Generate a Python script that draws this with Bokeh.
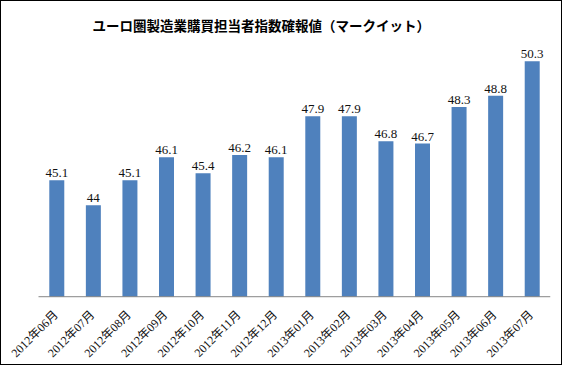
from bokeh.plotting import figure
from bokeh.models import Range1d, ColumnDataSource
from bokeh.embed import file_html
from bokeh.resources import INLINE
from bokeh.core.properties import value
from math import pi

title_text = "ユーロ圏製造業購買担当者指数確報値（マークイット）"
months = ["2012年06月", "2012年07月", "2012年08月", "2012年09月", "2012年10月",
          "2012年11月", "2012年12月", "2013年01月", "2013年02月", "2013年03月",
          "2013年04月", "2013年05月", "2013年06月", "2013年07月"]
pmi = [45.1, 44, 45.1, 46.1, 45.4, 46.2, 46.1, 47.9, 47.9, 46.8, 46.7, 48.3, 48.8, 50.3]
base = 40

n = len(months)
idx = list(range(n))
src = ColumnDataSource(dict(x=idx, name=months, top=pmi, lbl=[f"{v:g}" for v in pmi],
                            b=[base] * n))

serif = "'Liberation Serif', 'Noto Sans CJK JP'"

x_lo = -0.5 - 35 / 36.57
p = figure(x_range=Range1d(x_lo, n - 0.5), y_range=Range1d(36.99, 50.95),
           width=562, height=365, output_backend="svg", toolbar_location=None,
           min_border_left=2, min_border_right=13, min_border_top=40, min_border_bottom=1)
p.styles = {"border": "1px solid black", "box-sizing": "border-box"}
p.vbar(x="x", top="top", bottom=base, width=0.41, source=src,
       fill_color="#4F81BD", line_color=None)
p.text(x="x", y="top", text="lbl", source=src, text_align="center",
       text_baseline="alphabetic", y_offset=-7, text_font=value(serif),
       text_font_size="13px", text_color="#111111")
p.segment(x0=[-0.5], y0=[base], x1=[n - 0.5], y1=[base], line_color="#868686", line_width=1)
p.text(x="x", y="b", text="name", source=src, angle=pi / 4, text_align="right",
       text_baseline="middle", x_offset=-1, y_offset=16, text_font=value(serif),
       text_font_size="12px", text_color="#111111")

p.title.text = title_text
p.title.align = "left"
p.title.offset = 89
p.title.standoff = 23
p.title.text_font = "Noto Sans CJK JP"
p.title.text_font_style = "bold"
p.title.text_font_size = "13.5px"
p.title.text_color = "black"

p.xaxis.visible = False
p.yaxis.visible = False
p.grid.visible = False
p.outline_line_color = None

open("out.html", "w").write(file_html(p, INLINE))
